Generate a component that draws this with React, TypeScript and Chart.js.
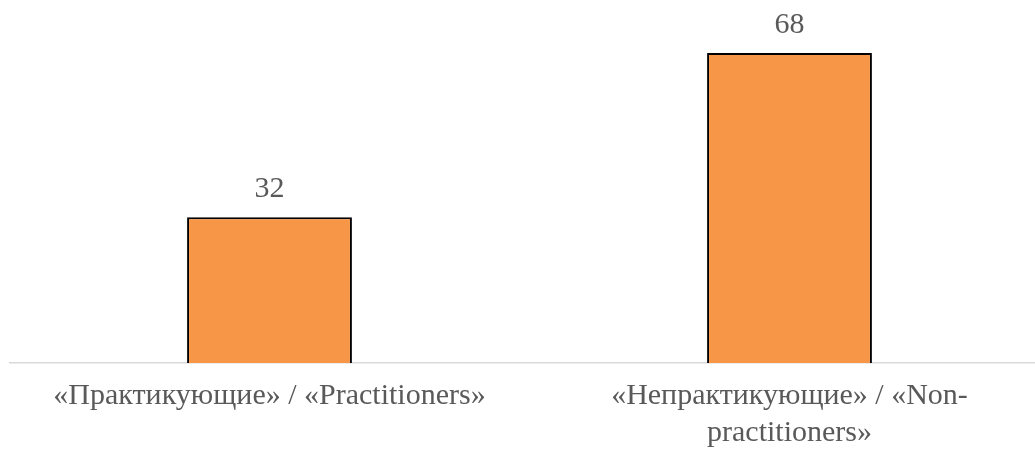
import React, { useEffect, useRef } from "react";
import { Chart, registerables } from "chart.js";

Chart.register(...registerables);

const categories: string[][] = [
  ["«Практикующие» / «Practitioners»"],
  ["«Непрактикующие» / «Non-", "practitioners»"],
];
const values: number[] = [32, 68];

const FONT = "'Liberation Serif', 'Times New Roman', serif";
const TEXT = "#595959";

const valueLabels = {
  id: "valueLabels",
  afterDatasetsDraw(chart: any) {
    const ctx = chart.ctx;
    const meta = chart.getDatasetMeta(0);
    ctx.save();
    ctx.font = `30px ${FONT}`;
    ctx.fillStyle = TEXT;
    ctx.textAlign = "center";
    ctx.textBaseline = "middle";
    meta.data.forEach((bar: any, i: number) => {
      ctx.fillText(String(values[i]), bar.x, bar.y - 28);
    });
    ctx.restore();
  },
};

export default function App() {
  const ref = useRef<HTMLCanvasElement | null>(null);
  useEffect(() => {
    if (!ref.current) return;
    const chart = new Chart(ref.current, {
      type: "bar",
      data: {
        labels: categories,
        datasets: [
          {
            data: values,
            backgroundColor: "#F79646",
            borderColor: "#000000",
            borderWidth: 2,
            barPercentage: 1,
            categoryPercentage: 0.317,
          },
        ],
      },
      options: {
        animation: false,
        responsive: false,
        maintainAspectRatio: false,
        layout: { padding: { left: 9.5, right: 0.5, top: 44, bottom: 2 } },
        plugins: { legend: { display: false }, tooltip: { enabled: false } },
        scales: {
          x: {
            grid: { display: false, drawTicks: false },
            border: { display: true, color: "#D9D9D9", width: 1.5 },
            ticks: {
              color: TEXT,
              font: { family: FONT, size: 30, lineHeight: 1.233 },
              padding: 14.5,
              maxRotation: 0,
              autoSkip: false,
            },
          },
          y: {
            display: false,
            min: 0,
            max: 70,
          },
        },
      },
      plugins: [valueLabels],
    });
    return () => chart.destroy();
  }, []);
  return (
    <div style={{ position: "absolute", left: 0, top: 0, width: 1035, height: 452, overflow: "hidden", background: "#fff" }}>
      <canvas ref={ref} width={1050} height={468} style={{ width: 1050, height: 468, display: "block" }} />
    </div>
  );
}
